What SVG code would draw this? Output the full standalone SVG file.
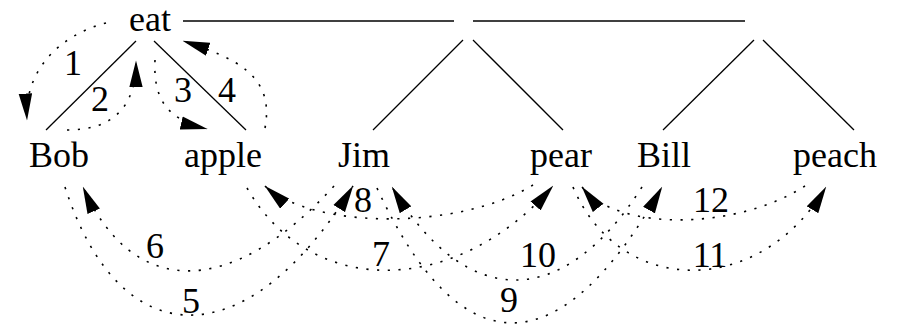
<svg xmlns="http://www.w3.org/2000/svg" width="899" height="326" viewBox="0 0 899 326" font-family="Liberation Serif, serif">
<style>
text{font-size:36px;fill:#000;text-anchor:middle}
.tree{stroke:#000;stroke-width:1.3;fill:none}
.arc{stroke:#000;stroke-width:1.6;fill:none;stroke-dasharray:2.2 8.5;marker-end:url(#ah)}
</style>
<defs>
<marker id="ah" markerUnits="userSpaceOnUse" markerWidth="27" markerHeight="14" viewBox="0 0 26 13" refX="25.5" refY="6.5" orient="auto">
<path d="M0,0 L26,6.5 L0,13 z" fill="#000" stroke="none"/>
</marker>
</defs>
<g id="eat"><text x="150" y="31" font-family="Liberation Serif">eat</text></g>
<g id="Bob"><text x="59" y="167" font-family="Liberation Serif">Bob</text></g>
<g id="apple"><text x="223" y="167" font-family="Liberation Serif">apple</text></g>
<g id="Jim"><text x="364" y="167" font-family="Liberation Serif">Jim</text></g>
<g id="pear"><text x="561" y="167" font-family="Liberation Serif">pear</text></g>
<g id="Bill"><text x="664" y="167" font-family="Liberation Serif">Bill</text></g>
<g id="peach"><text x="835" y="167" font-family="Liberation Serif">peach</text></g>
<g id="connectors">
<line class="tree" x1="183" y1="21" x2="454" y2="21"/>
<line class="tree" x1="473" y1="21" x2="745" y2="21"/>
<line class="tree" x1="136" y1="41" x2="46" y2="130"/>
<line class="tree" x1="154" y1="41" x2="246" y2="130"/>
<line class="tree" x1="463" y1="40" x2="373" y2="130"/>
<line class="tree" x1="473" y1="40" x2="563" y2="130"/>
<line class="tree" x1="754" y1="40" x2="663" y2="130"/>
<line class="tree" x1="763" y1="40" x2="854" y2="130"/>
<path class="arc" d="M106,23 C60,35 24,70 27,120"/>
<path class="arc" d="M67,130 C110,130 136,110 136,61"/>
<path class="arc" d="M155,60 C153,100 168,120 207,129"/>
<path class="arc" d="M265,128 C275,75 235,58 183,41"/>
<path class="arc" d="M65,187 C120,358 248,358 353,186"/>
<path class="arc" d="M334,186 C230,300 132,298 83,187"/>
<path class="arc" d="M247,188 C310,298 455,298 553,186"/>
<path class="arc" d="M533,185 C460,230 314,230 265,186"/>
<path class="arc" d="M377,188 C460,368 560,368 662,187"/>
<path class="arc" d="M642,187 C563,311 466,311 392,187"/>
<path class="arc" d="M573,187 C620,298 760,298 826,187"/>
<path class="arc" d="M805,186 C735,231 616,231 582,187"/>
</g>
<g id="labels" font-family="Liberation Serif">
<text x="73" y="75">1</text>
<text x="100" y="111">2</text>
<text x="183" y="102">3</text>
<text x="227" y="102">4</text>
<text x="191" y="313">5</text>
<text x="155" y="258">6</text>
<text x="381" y="266">7</text>
<text x="363" y="212">8</text>
<text x="509" y="312">9</text>
<text x="538" y="267">10</text>
<text x="710" y="267">11</text>
<text x="711" y="212">12</text>
</g>
</svg>
